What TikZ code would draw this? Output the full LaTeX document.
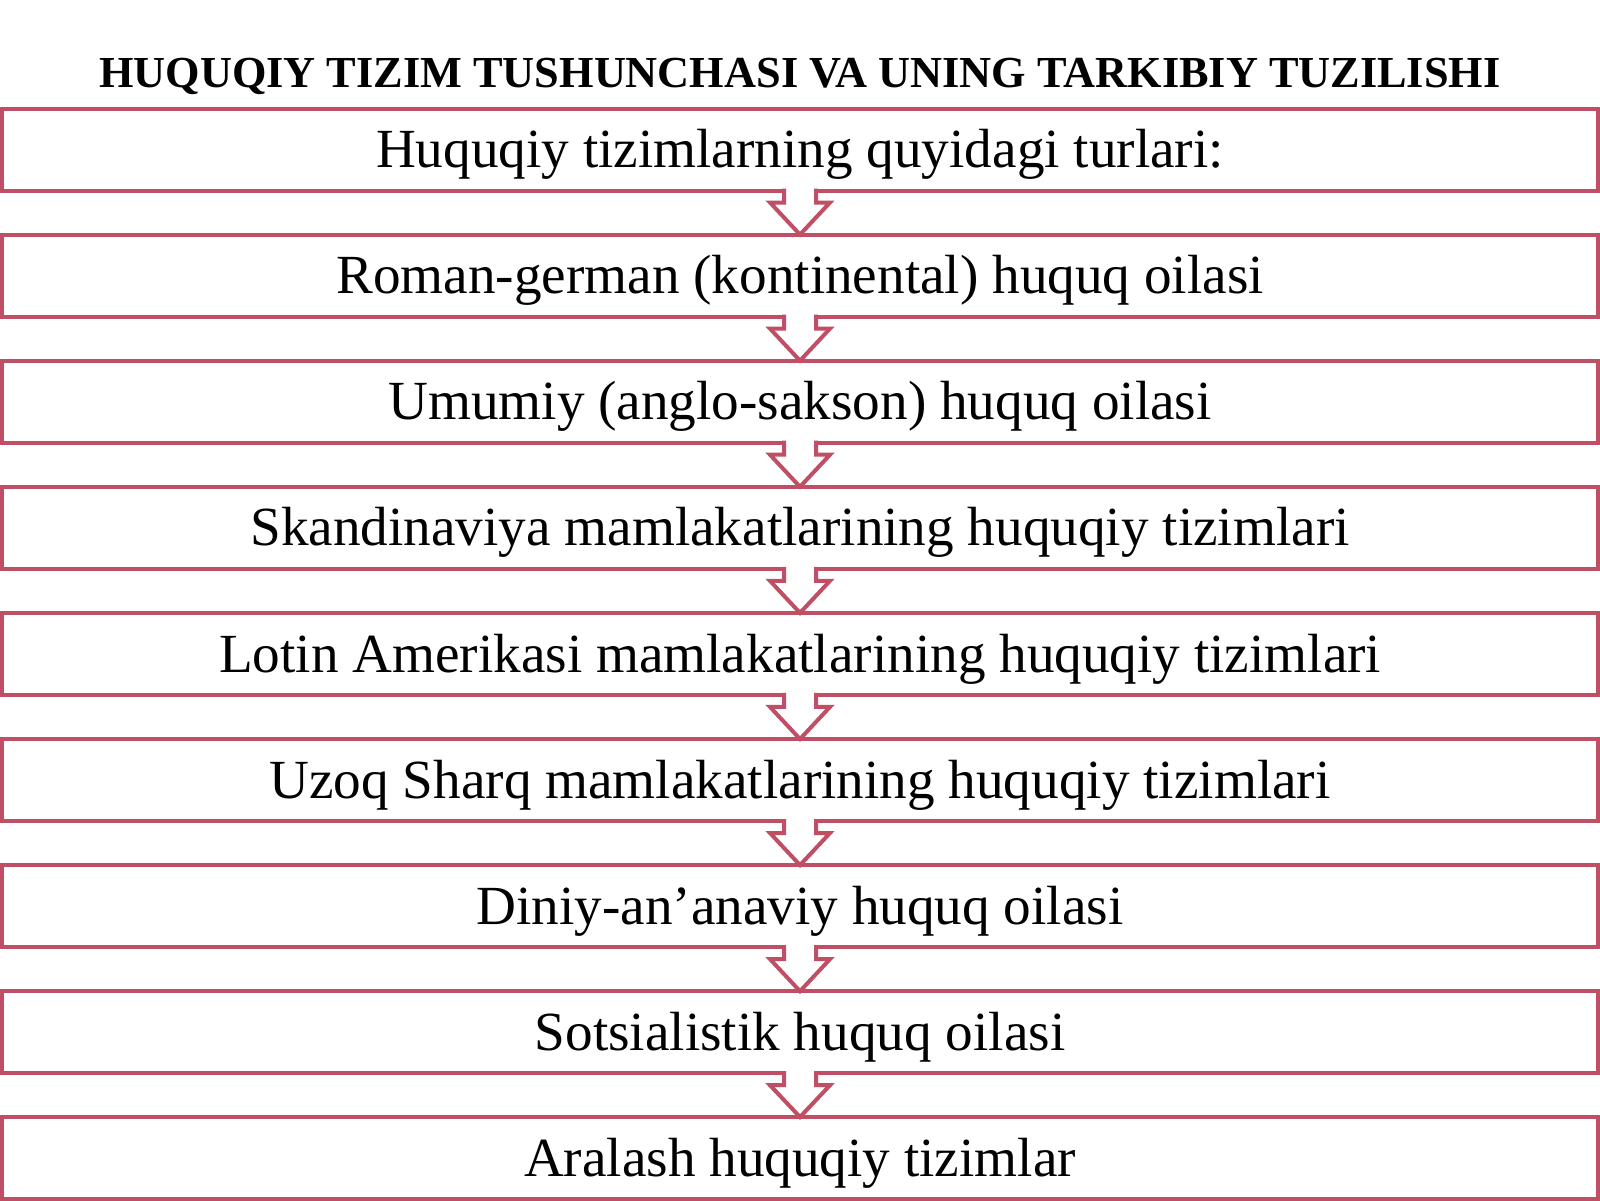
\documentclass[tikz,border=0pt]{standalone}
\usepackage{fontspec}
\setmainfont{Liberation Serif}
\usetikzlibrary{calc}
\definecolor{boxred}{RGB}{192,78,100}
\tikzset{
  stagebox/.style={draw=boxred, line width=2pt, fill=white, rectangle, outer sep=0pt, inner sep=0pt,
    minimum width=798pt, minimum height=41pt, font=\fontsize{27.6pt}{30pt}\selectfont,
    text height=18.1pt, text depth=0pt},
  titletext/.style={font=\bfseries\fontsize{22.15pt}{26pt}\selectfont, text height=14.5pt, text depth=0pt, inner sep=0pt},
  arrowline/.style={draw=boxred, line width=2pt, line join=miter},
}
\newcommand{\downarrowshape}[2]{%
  \fill[white] ($(#1.south)+(-16,-3)$) -- ($(#1.south)+(-16,12)$) -- ($(#1.south)+(-30,12)$) -- (#2.north)
     -- ($(#1.south)+(30,12)$) -- ($(#1.south)+(16,12)$) -- ($(#1.south)+(16,-3)$) -- cycle;
  \draw[arrowline] ($(#1.south)+(-16,-2)$) -- ($(#1.south)+(-16,12)$) -- ($(#1.south)+(-30,12)$) -- (#2.north)
     -- ($(#1.south)+(30,12)$) -- ($(#1.south)+(16,12)$) -- ($(#1.south)+(16,-2)$);
}
\begin{document}
\begin{tikzpicture}[x=0.5pt,y=-0.5pt]
\useasboundingbox (0,0) rectangle (1600,1200);
\fill[white] (0,0) rectangle (1600,1200);
\node[titletext] (title) at (800,72.5) {HUQUQIY TIZIM TUSHUNCHASI VA UNING TARKIBIY TUZILISHI};
\node[stagebox] (b1) at (800,149.5) {Huquqiy tizimlarning quyidagi turlari:};
\node[stagebox] (b2) at (800,275.6) {Roman-german (kontinental) huquq oilasi};
\node[stagebox] (b3) at (800,401.7) {Umumiy (anglo-sakson) huquq oilasi};
\node[stagebox] (b4) at (800,527.8) {Skandinaviya mamlakatlarining huquqiy tizimlari};
\node[stagebox] (b5) at (800,653.9) {Lotin Amerikasi mamlakatlarining huquqiy tizimlari};
\node[stagebox] (b6) at (800,780.0) {Uzoq Sharq mamlakatlarining huquqiy tizimlari};
\node[stagebox] (b7) at (800,906.1) {Diniy-an’anaviy huquq oilasi};
\node[stagebox] (b8) at (800,1032.2) {Sotsialistik huquq oilasi};
\node[stagebox] (b9) at (800,1158.0) {Aralash huquqiy tizimlar};
\downarrowshape{b1}{b2}
\downarrowshape{b2}{b3}
\downarrowshape{b3}{b4}
\downarrowshape{b4}{b5}
\downarrowshape{b5}{b6}
\downarrowshape{b6}{b7}
\downarrowshape{b7}{b8}
\downarrowshape{b8}{b9}
\end{tikzpicture}
\end{document}
